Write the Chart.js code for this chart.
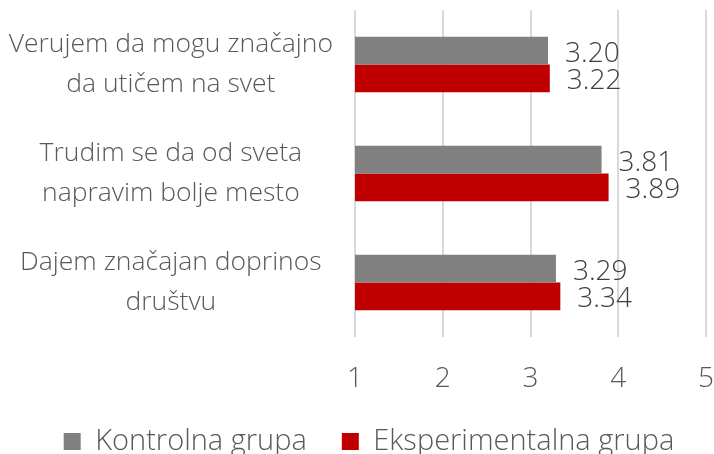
<!DOCTYPE html>
<html>
<head>
<meta charset="utf-8">
<script src="https://cdn.jsdelivr.net/npm/chart.js@4"></script>
<style>
  html, body { margin: 0; padding: 0; background: #fff; }
  #wrap { width: 714px; height: 454px; }
</style>
</head>
<body>
<div id="wrap"><canvas id="chart"></canvas></div>
<script>
const categories = [
  ['Verujem da mogu značajno', 'da utičem na svet'],
  ['Trudim se da od sveta', 'napravim bolje mesto'],
  ['Dajem značajan doprinos', 'društvu']
];
const kontrolna = [3.20, 3.81, 3.29];
const eksperimentalna = [3.22, 3.89, 3.34];
const seriesNames = ['Kontrolna grupa', 'Eksperimentalna grupa'];

const FONT = "'Open Sans', 'Lato', sans-serif";

// draws the value next to the end of each bar
const valueLabels = {
  id: 'valueLabels',
  afterDatasetsDraw(chart) {
    const ctx = chart.ctx;
    ctx.save();
    ctx.font = '300 28px ' + FONT;
    ctx.fillStyle = '#404040';
    ctx.textAlign = 'left';
    ctx.textBaseline = 'middle';
    chart.data.datasets.forEach((ds, i) => {
      chart.getDatasetMeta(i).data.forEach((bar, j) => {
        ctx.fillText(ds.data[j].toFixed(2), bar.x + 17, bar.y + 3);
      });
    });
    ctx.restore();
  }
};

// keep the legend low: fixed height, nudged right a little
const legendBox = {
  id: 'legendBox',
  beforeLayout(chart) {
    const lg = chart.legend;
    if (lg && !lg._patched) {
      const fit = lg.fit;
      lg.fit = function () { fit.call(this); this.height = 62; };
      lg._patched = true;
    }
  },
  afterLayout(chart) {
    chart.legend.left += 16;
    chart.legend.right += 16;
  }
};

new Chart(document.getElementById('chart'), {
  type: 'bar',
  data: {
    labels: categories,
    datasets: [
      {label: seriesNames[0], data: kontrolna, backgroundColor: '#808080'},
      {label: seriesNames[1], data: eksperimentalna, backgroundColor: '#c00000'}
    ]
  },
  plugins: [valueLabels, legendBox],
  options: {
    indexAxis: 'y',
    responsive: true,
    maintainAspectRatio: false,
    animation: false,
    layout: {padding: {top: 10, right: 8, bottom: 0, left: 0}},
    datasets: {bar: {categoryPercentage: 0.51, barPercentage: 1.0}},
    plugins: {
      legend: {
        position: 'bottom',
        labels: {
          font: {family: FONT, size: 29, weight: '300'},
          color: '#595959',
          boxWidth: 17,
          boxHeight: 17,
          padding: 35
        }
      },
      tooltip: {enabled: false}
    },
    scales: {
      x: {
        min: 1,
        max: 5,
        ticks: {
          stepSize: 1,
          padding: 25,
          color: '#595959',
          font: {family: FONT, size: 28, weight: '300'}
        },
        grid: {color: '#d9d9d9', lineWidth: 2, drawTicks: false},
        border: {display: false},
        afterFit(scale) {
          scale.height = 55;
          scale.paddingLeft = 0;
          scale.paddingRight = 0;
        }
      },
      y: {
        ticks: {
          padding: 22,
          crossAlign: 'center',
          color: '#595959',
          font: {family: FONT, size: 26.5, weight: '300', lineHeight: 1.5}
        },
        grid: {display: false, drawTicks: false},
        border: {display: false},
        afterFit(scale) {
          scale.width = 355;
          scale.paddingTop = 0;
          scale.paddingBottom = 0;
        }
      }
    }
  }
});
</script>
</body>
</html>
